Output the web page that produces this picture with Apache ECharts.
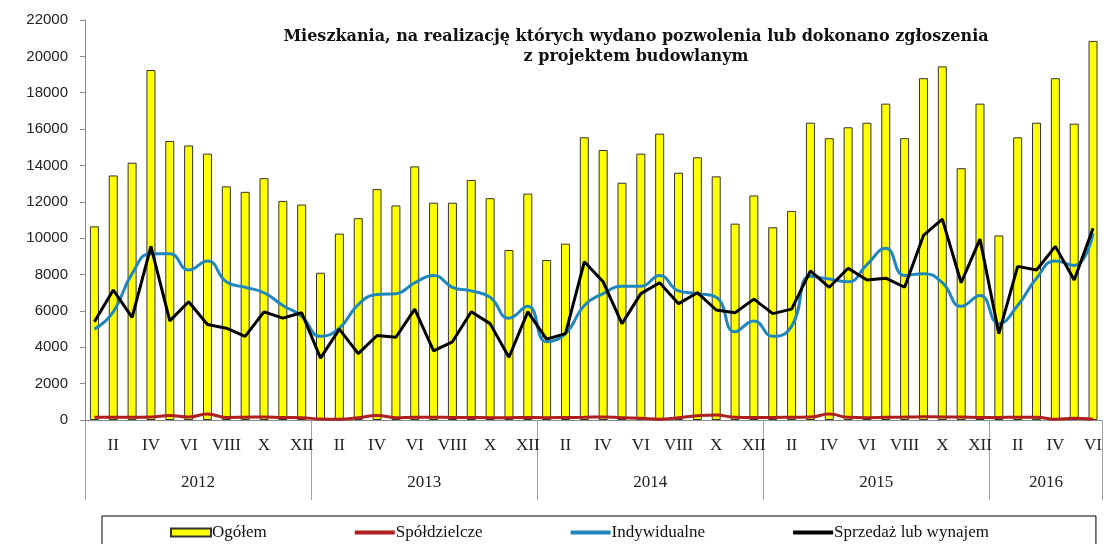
<!DOCTYPE html>
<html>
<head>
<meta charset="utf-8">
<script src="https://cdn.jsdelivr.net/npm/echarts@6/dist/echarts.min.js"></script>
<style>
  html, body { margin: 0; padding: 0; background: #fff; }
  #main { width: 1105px; height: 544px; }
</style>
</head>
<body>
<div id="main"></div>
<script>
var years = ['2012', '2013', '2014', '2015', '2016'];
var monthsPerYear = [12, 12, 12, 12, 6];
var monthNames = ['I', 'II', 'III', 'IV', 'V', 'VI', 'VII', 'VIII', 'IX', 'X', 'XI', 'XII'];

var ogolem = [
  10650, 13450, 14150, 19250, 15350, 15100, 14650, 12850, 12550, 13300, 12050, 11850,
  8100, 10250, 11100, 12700, 11800, 13950, 11950, 11950, 13200, 12200, 9350, 12450,
  8800, 9700, 15550, 14850, 13050, 14650, 15750, 13600, 14450, 13400, 10800, 12350,
  10600, 11500, 16350, 15500, 16100, 16350, 17400, 15500, 18800, 19450, 13850, 17400,
  10150, 15550, 16350, 18800, 16300, 20850
];
var spoldzielcze = [
  150, 150, 150, 160, 250, 160, 330, 140, 150, 170, 140, 130,
  50, 40, 120, 250, 130, 150, 150, 140, 140, 130, 130, 140,
  130, 140, 150, 170, 130, 90, 40, 130, 230, 270, 150, 140,
  140, 150, 160, 330, 150, 130, 150, 160, 180, 170, 160, 140,
  140, 150, 150, 40, 90, 40
];
var indywidualne = [
  5000, 5950, 8050, 9150, 9150, 8250, 8750, 7600, 7300, 7000, 6300, 5700,
  4600, 5050, 6350, 6900, 6950, 7550, 7950, 7300, 7100, 6750, 5600, 6250,
  4300, 4750, 6300, 6950, 7350, 7350, 7950, 7100, 6950, 6750, 4850, 5450,
  4600, 5150, 7900, 7750, 7600, 8550, 9450, 7950, 8050, 7550, 6250, 6850,
  5300, 6300, 7800, 8750, 8500, 10250
];
var sprzedaz = [
  5400, 7150, 5650, 9550, 5450, 6500, 5250, 5050, 4600, 5950, 5600, 5900,
  3400, 5000, 3650, 4650, 4550, 6100, 3800, 4300, 5950, 5300, 3450, 5950,
  4450, 4750, 8700, 7600, 5300, 6950, 7550, 6400, 7000, 6050, 5900, 6650,
  5850, 6100, 8200, 7300, 8350, 7700, 7800, 7300, 10150, 11050, 7550, 9950,
  4750, 8450, 8250, 9550, 7700, 10550
];

// kategorie miesięczne i środki lat dla drugiego poziomu osi
var categories = [];
var yearCenters = [];
var yearStarts = [];
var pos = 0;
for (var y = 0; y < years.length; y++) {
  yearStarts.push(pos);
  yearCenters.push(pos + monthsPerYear[y] / 2);
  for (var m = 0; m < monthsPerYear[y]; m++) {
    categories.push(years[y] + ' ' + monthNames[m]);
  }
  pos += monthsPerYear[y];
}

var serif = '"Liberation Serif", "Times New Roman", serif';
var lineIcon = 'path://M0,0H40V4H0Z';
var chart = echarts.init(document.getElementById('main'), null, { renderer: 'canvas' });

var option = {
  animation: false,
  backgroundColor: '#fff',
  title: {
    text: 'Mieszkania, na realizację których wydano pozwolenia lub dokonano zgłoszenia\nz projektem budowlanym',
    left: 631,
    top: 22,
    textAlign: 'center',
    textStyle: {
      fontFamily: '"DejaVu Serif", serif',
      fontWeight: 'bold',
      fontSize: 16,
      lineHeight: 20,
      color: '#111'
    }
  },
  legend: {
    left: 102,
    top: 516,
    padding: [8, 107, 20, 68],
    itemGap: 88,
    itemWidth: 40,
    itemHeight: 8,
    borderColor: '#000',
    borderWidth: 1,
    textStyle: { fontFamily: serif, fontSize: 17, color: '#111', padding: [0, 0, 0, -4] },
    data: [
      { name: 'Ogółem', icon: 'rect' },
      { name: 'Spółdzielcze', icon: lineIcon },
      { name: 'Indywidualne', icon: lineIcon },
      { name: 'Sprzedaż lub wynajem', icon: lineIcon }
    ]
  },
  grid: { left: 85, right: 1, top: 20, bottom: 124 },
  xAxis: [
    {
      type: 'category',
      data: categories,
      boundaryGap: true,
      axisLine: { lineStyle: { color: '#8c8c8c', width: 1 } },
      axisTick: {
        show: true,
        interval: function (index) { return yearStarts.indexOf(index) !== -1; },
        length: 80,
        lineStyle: { color: '#a0a0a0' }
      },
      axisLabel: {
        interval: function (index) { return index % 12 % 2 === 1; },
        formatter: function (v) { return v.split(' ')[1]; },
        fontFamily: serif,
        fontSize: 17,
        color: '#222',
        margin: 17
      }
    },
    {
      type: 'value',
      min: 0,
      max: categories.length,
      position: 'bottom',
      axisLine: { show: false },
      axisTick: { show: false },
      splitLine: { show: false },
      axisLabel: {
        customValues: yearCenters,
        formatter: function (v) { return years[yearCenters.indexOf(v)]; },
        fontFamily: serif,
        fontSize: 17,
        color: '#222',
        margin: 54
      }
    }
  ],
  yAxis: {
    type: 'value',
    min: 0,
    max: 22000,
    interval: 2000,
    axisLine: { show: true, lineStyle: { color: '#8c8c8c' } },
    axisTick: { show: true, length: 5, lineStyle: { color: '#8c8c8c' } },
    splitLine: { show: false },
    axisLabel: {
      formatter: function (v) { return String(v); },
      fontFamily: '"Liberation Sans", Arial, sans-serif',
      fontSize: 15,
      color: '#222',
      margin: 17
    }
  },
  series: [
    {
      name: 'Ogółem',
      type: 'bar',
      data: ogolem,
      barWidth: 9,
      itemStyle: { color: '#ffff00', borderColor: '#333', borderWidth: 1 }
    },
    {
      name: 'Spółdzielcze',
      type: 'line',
      data: spoldzielcze,
      smooth: true,
      symbol: 'none',
      lineStyle: { color: '#b01e1e', width: 3 },
      itemStyle: { color: '#b01e1e' }
    },
    {
      name: 'Indywidualne',
      type: 'line',
      data: indywidualne,
      smooth: true,
      symbol: 'none',
      lineStyle: { color: '#1f87bd', width: 3 },
      itemStyle: { color: '#1f87bd' }
    },
    {
      name: 'Sprzedaż lub wynajem',
      type: 'line',
      data: sprzedaz,
      symbol: 'none',
      lineStyle: { color: '#000', width: 3 },
      itemStyle: { color: '#000' }
    }
  ]
};
chart.setOption(option);
</script>
</body>
</html>
